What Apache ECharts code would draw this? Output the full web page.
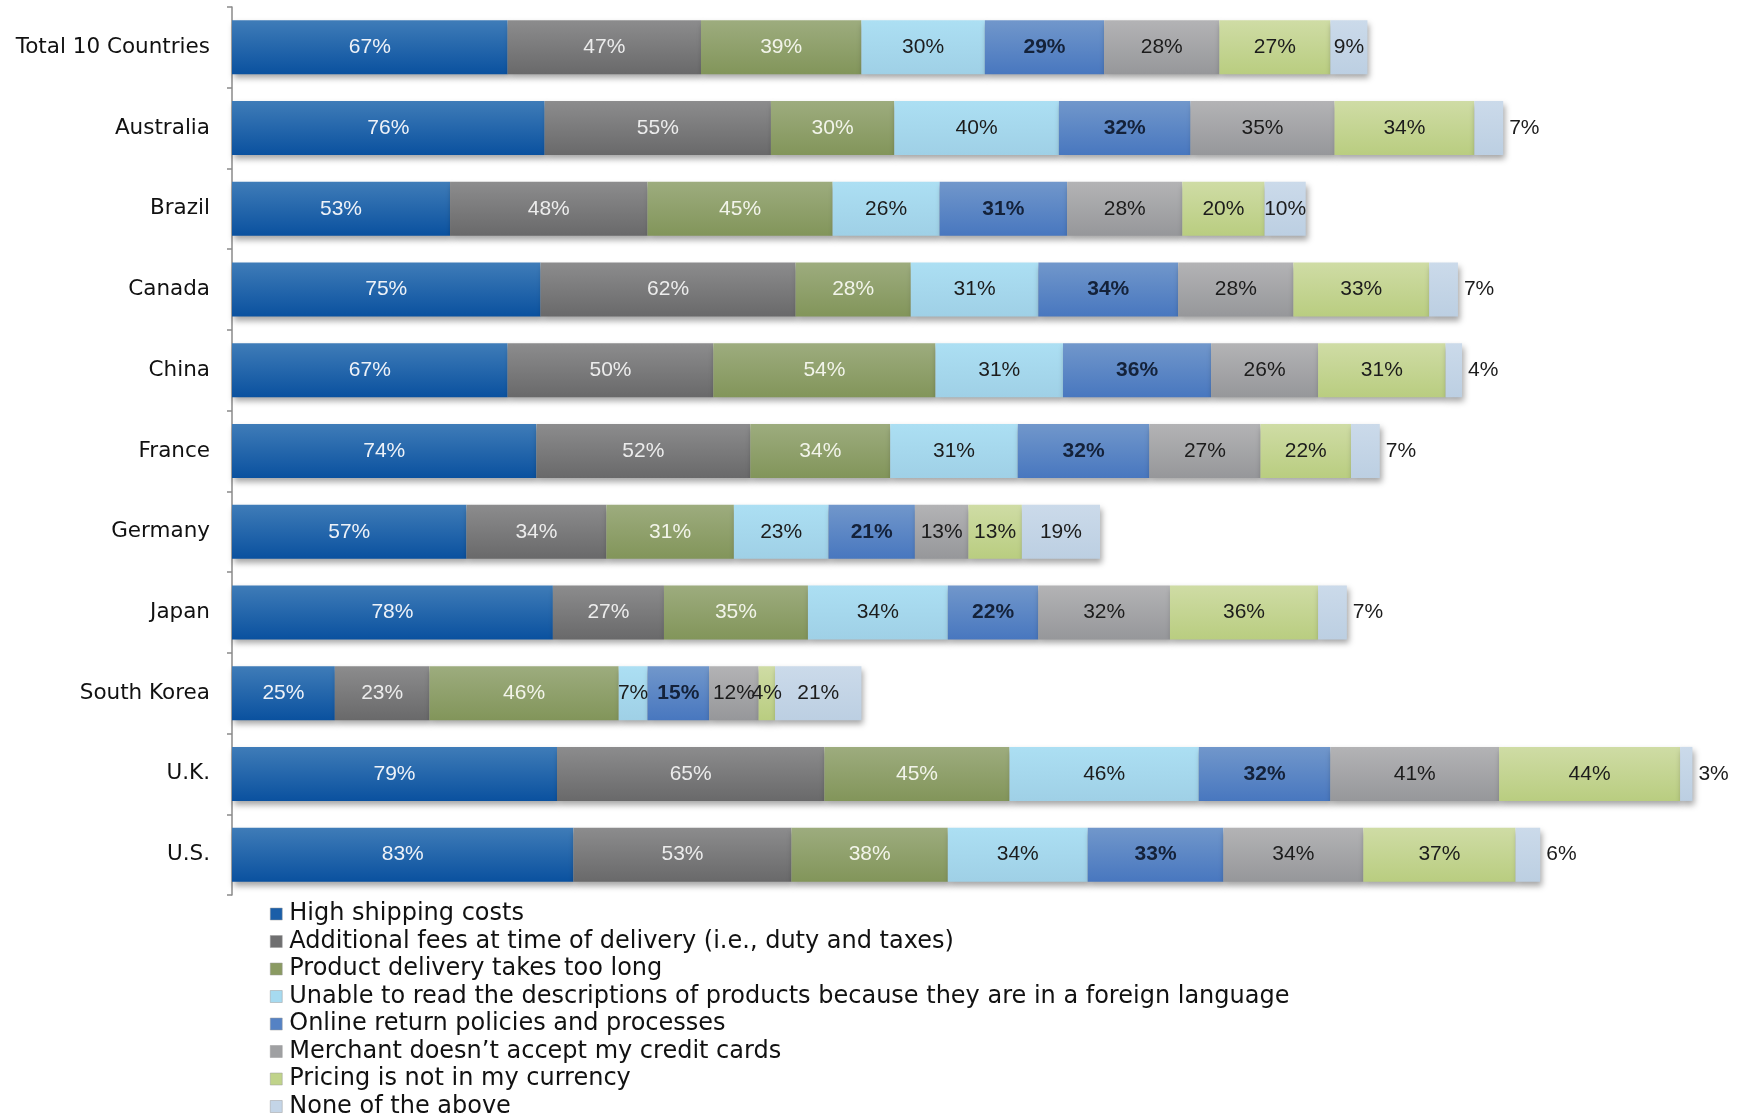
<!DOCTYPE html>
<html>
<head>
<meta charset="utf-8">
<title>Reasons for not buying cross-border</title>
<script src="https://cdn.jsdelivr.net/npm/echarts@6/dist/echarts.min.js"></script>
<style>
html, body { margin: 0; padding: 0; background: #fff; }
#chart { width: 1745px; height: 1116px; }
</style>
</head>
<body>
<div id="chart"></div>
<script>
let categories = ['Total 10 Countries', 'Australia', 'Brazil', 'Canada', 'China', 'France', 'Germany', 'Japan', 'South Korea', 'U.K.', 'U.S.']

let seriesNames = [
    'High shipping costs',
    'Additional fees at time of delivery (i.e., duty and taxes)',
    'Product delivery takes too long',
    'Unable to read the descriptions of products because they are in a foreign language',
    'Online return policies and processes',
    'Merchant doesn\u2019t accept my credit cards',
    'Pricing is not in my currency',
    'None of the above'
]

let highShipping = [67, 76, 53, 75, 67, 74, 57, 78, 25, 79, 83]
let additionalFees = [47, 55, 48, 62, 50, 52, 34, 27, 23, 65, 53]
let deliveryTooLong = [39, 30, 45, 28, 54, 34, 31, 35, 46, 45, 38]
let foreignLanguage = [30, 40, 26, 31, 31, 31, 23, 34, 7, 46, 34]
let returnPolicies = [29, 32, 31, 34, 36, 32, 21, 22, 15, 32, 33]
let creditCards = [28, 35, 28, 28, 26, 27, 13, 32, 12, 41, 34]
let currency = [27, 34, 20, 33, 31, 22, 13, 36, 4, 44, 37]
let noneOfAbove = [9, 7, 10, 7, 4, 7, 19, 7, 21, 3, 6]

let allValues = [highShipping, additionalFees, deliveryTooLong, foreignLanguage, returnPolicies, creditCards, currency, noneOfAbove]

// top / bottom colour of each bar segment (slight office-style gradient)
let topColors = ['#3f7cb8', '#8c8c8d', '#9dac7e', '#acdff3', '#7197cb', '#b3b3b5', '#cfdca5', '#cbdaea']
let bottomColors = ['#0a519f', '#69696a', '#82955a', '#9fd0e6', '#4877bf', '#96979a', '#b9cd80', '#bccfe2']
let legendColors = ['#1a5ea8', '#6f6f70', '#8a9a62', '#a6daf0', '#5582c4', '#9fa0a2', '#c0d38a', '#c4d5e7']
let labelColors = ['#eef2f8', '#ececec', '#f2f4ea', '#1c1c1c', '#14223a', '#1c1c1c', '#1c1c1c', '#1c1c1c']

let labelFont = "'Liberation Sans Narrow', 'Arial Narrow', 'Liberation Sans', Arial, sans-serif"

let series = allValues.map((values, i) => {
    let last = i === allValues.length - 1
    return {
        name: seriesNames[i],
        type: 'bar',
        stack: 'all',
        barWidth: 54,
        data: values.map(v => {
            // small "none" segments carry their label outside the bar
            if (last && v < 9) {
                return {value: v, label: {position: 'right', distance: 6}}
            }
            return v
        }),
        itemStyle: {
            color: new echarts.graphic.LinearGradient(0, 0, 0, 1, [
                {offset: 0, color: topColors[i]},
                {offset: 1, color: bottomColors[i]}
            ]),
            shadowBlur: 6,
            shadowColor: 'rgba(0,0,0,0.35)',
            shadowOffsetX: 2,
            shadowOffsetY: 4
        },
        label: {
            show: true,
            position: 'inside',
            formatter: '{c}%',
            color: labelColors[i],
            fontFamily: labelFont,
            fontSize: 21,
            fontWeight: i === 4 ? 'bold' : 'normal'
        },
        emphasis: {disabled: true}
    }
})

let chart = echarts.init(document.getElementById('chart'))
let option = {
    animation: false,
    backgroundColor: '#ffffff',
    grid: {
        left: 232,
        top: 7,
        width: 1481,
        height: 888
    },
    xAxis: {
        type: 'value',
        min: 0,
        max: 360,
        show: false
    },
    yAxis: {
        type: 'category',
        inverse: true,
        data: categories,
        axisLine: {show: true, lineStyle: {color: '#8a8a8a', width: 1.5}},
        axisTick: {show: true, length: 5, lineStyle: {color: '#8a8a8a', width: 1.5}},
        axisLabel: {
            margin: 22,
            color: '#111',
            fontFamily: "'DejaVu Sans', Verdana, sans-serif",
            fontSize: 21.5
        }
    },
    legend: {
        orient: 'vertical',
        left: 270,
        top: 902,
        height: 260,
        padding: 0,
        icon: 'rect',
        itemWidth: 12,
        itemHeight: 12,
        itemGap: 3.5,
        data: seriesNames.map((name, i) => ({
            name: name,
            itemStyle: {color: legendColors[i], borderColor: '#9a9a9a', borderWidth: 0.5}
        })),
        textStyle: {
            color: '#111',
            fontFamily: "'DejaVu Sans', Verdana, sans-serif",
            fontSize: 24,
            lineHeight: 22,
            padding: [0, 0, 0, 2]
        }
    },
    series: series
}
chart.setOption(option)
</script>
</body>
</html>
